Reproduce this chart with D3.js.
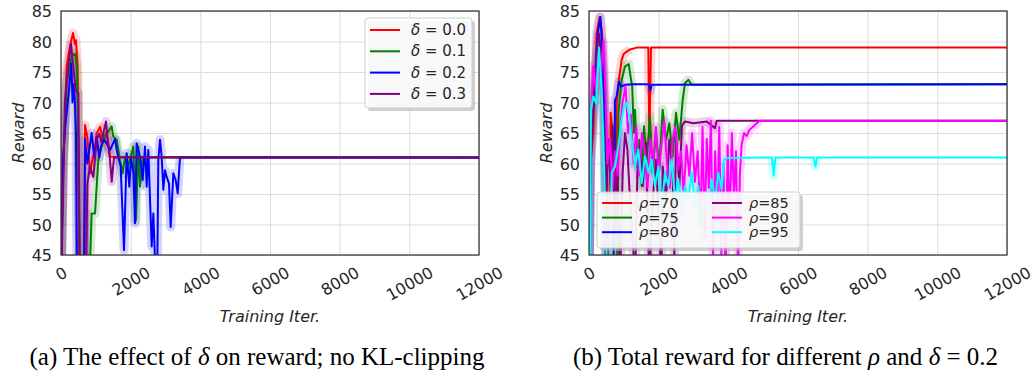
<!DOCTYPE html>
<html>
<head>
<meta charset="utf-8">
<script src="https://cdn.jsdelivr.net/npm/d3@7"></script>
<style>
  body { margin: 0; background: #fff; }
  svg { display: block; }
</style>
</head>
<body>
<svg id="chart" width="1033" height="374"></svg>
<script>
const xTicks = [0, 2000, 4000, 6000, 8000, 10000, 12000];
const yTicks = [45, 50, 55, 60, 65, 70, 75, 80, 85];

// panel (a): delta sweep, no KL-clipping  [iteration, reward]
const deltaLabels = ['0.0', '0.1', '0.2', '0.3'];
const deltaColors = ['#ff0000', '#008000', '#0000ff', '#800080'];
const delta00 = [[0,40],[60,58],[163,75.9],[250,79],[345,81.4],[400,79.6],[430,80.2],[478,75.9],[526,40],[670,40],[689,66.3],[756,64.4],[833,58.4],[900,60.6],[960,62],[1024,64.9],[1120,66],[1215,63.9],[1311,65.2],[1407,61.1],[12000,61]];
const delta01 = [[0,40],[60,60],[163,73.1],[250,76],[306,77.5],[402,78],[450,75.9],[480,70],[545,40],[813,40],[880,51.8],[976,51.8],[1024,56.2],[1072,60.6],[1167,62.8],[1263,64.4],[1388,65.5],[1455,66.1],[1502,64.4],[1598,63.9],[1694,60.6],[1770,58.4],[1837,61.1],[1914,59.5],[2000,61.1],[2077,62.8],[2153,50.7],[2220,62.8],[2268,56.2],[2345,61],[12000,61]];
const delta02 = [[0,40],[50,60],[120,66],[200,70.4],[260,74],[300,76.4],[330,70],[370,73],[400,70],[430,65],[460,40],[660,40],[690,64],[756,60],[880,65],[957,61],[1024,64.4],[1100,61],[1148,62.8],[1235,63.9],[1311,63.3],[1407,62.2],[1550,64],[1617,61.7],[1713,59.5],[1809,45.8],[1885,61.7],[1962,56.2],[2010,61.1],[2077,58.4],[2125,50.2],[2172,63.3],[2268,61.1],[2345,57.3],[2412,62.8],[2460,56.2],[2507,62.2],[2603,46.4],[2651,51.8],[2700,44],[2760,40],[2794,60.6],[2842,63.9],[2890,61.1],[2938,55.7],[2986,58.9],[3034,57.8],[3101,56.7],[3149,49.6],[3225,58.4],[3292,57.3],[3350,55.1],[3416,61],[12000,61]];
const delta03 = [[0,40],[20,44],[115,70.4],[210,75.9],[287,79.6],[354,75.9],[421,72],[498,71.5],[545,40],[718,40],[756,56.7],[830,59.5],[928,57.8],[1024,63.9],[1100,64.9],[1167,63.3],[1235,65.5],[1292,66.9],[1330,64.4],[1407,60.6],[1455,57],[1522,61],[12000,61]];

// panel (b): rho sweep with delta = 0.2
const rhoLabels = ['70', '75', '80', '85', '90', '95'];
const rhoColors = ['#ff0000', '#008000', '#0000ff', '#800080', '#ff00ff', '#00ffff'];
const rho70 = [[0,40],[40,60],[124,65],[220,81.3],[300,84],[364,82],[431,73.2],[507,62.3],[560,40],[600,40],[622,68.3],[680,65],[746,55],[794,69.9],[871,74.3],[938,77],[1000,78],[1177,78.7],[1369,79],[1703,79],[1732,63.3],[1780,79],[12000,79]];
const rho75 = [[0,40],[50,62],[150,70],[260,78],[330,80],[400,75],[450,66],[500,40],[800,40],[842,68.3],[938,73.7],[1034,75.9],[1140,76.3],[1200,74],[1240,72.6],[1290,65],[1321,68.8],[1388,59.4],[1445,63.9],[1512,56.3],[1579,66.1],[1656,60.6],[1751,67.7],[1828,58.5],[1924,65],[2019,59.5],[2115,68.8],[2211,63.9],[2306,66.6],[2402,61.2],[2498,68.3],[2593,63.9],[2689,70.4],[2756,73.2],[2852,73.7],[2948,72.9],[12000,73]];
const rho80 = [[0,40],[40,62],[172,73.2],[249,81.3],[330,84],[383,78.6],[431,70.4],[488,40],[699,40],[746,70.4],[794,71],[861,73.4],[919,72.6],[1034,72.9],[1273,73],[1720,73],[1760,72],[1800,72.9],[12000,73]];
const rho85 = [[0,40],[40,58],[124,70.4],[220,78.6],[287,81.3],[345,78.1],[411,67.7],[488,54.1],[555,63.9],[622,56.3],[680,66.1],[746,48.6],[813,59.5],[890,40],[967,58.5],[1034,65],[1101,62.3],[1177,54.1],[1254,48],[1321,40],[1388,58.5],[1464,62.8],[1541,56.3],[1636,63.4],[1732,40],[1828,54.1],[1924,60.6],[2019,48.6],[2080,40],[2115,59.5],[2211,54.1],[2306,63.9],[2402,58.5],[2450,44],[2498,65],[2593,56.3],[2670,66.2],[2756,66.9],[2995,66.6],[3378,66.9],[3617,65.8],[3665,67],[12000,67]];
const rho90 = [[0,40],[30,62],[77,70],[124,76],[201,72],[268,78],[335,74],[411,80],[470,72],[530,60],[600,64],[680,56],[750,62],[820,58],[900,66],[960,70],[1050,72.6],[1120,65],[1200,68],[1280,60],[1360,66],[1440,58],[1520,65],[1600,62],[1680,56],[1760,64],[1840,60],[1920,66],[2000,58],[2080,63],[2160,67],[2240,60],[2320,56],[2400,64],[2480,66],[2560,59],[2640,62],[2720,55],[2800,63],[2880,58],[2960,65],[3040,57],[3120,62],[3200,50],[3260,66],[3320,48],[3380,64],[3440,56],[3500,67],[3560,44],[3620,62],[3680,52],[3740,66],[3800,45],[3860,60],[3920,40],[3980,63],[4040,50],[4100,65],[4160,55],[4220,62],[4280,40],[4330,58],[4380,63],[4450,65],[4530,64.5],[4600,65.5],[4700,66],[4800,66.5],[4900,67],[12000,67]];
const rho95 = [[0,40],[29,44],[57,68.8],[124,71],[201,69.9],[287,79],[364,72.1],[411,63.9],[459,54.1],[526,40],[600,45],[651,58.5],[746,59.5],[842,62.8],[938,67.2],[1005,69.4],[1081,69.9],[1158,67.7],[1225,63.9],[1321,59.5],[1416,62.3],[1512,56.8],[1608,61.2],[1703,58.5],[1799,60.6],[1895,56.3],[1991,59.5],[2086,53],[2182,58.5],[2278,56.3],[2373,60.6],[2469,54.1],[2565,57.4],[2660,51.9],[2756,56.3],[2852,54.1],[2948,58.5],[3043,53],[3139,56.3],[3235,49.7],[3330,55.2],[3426,51.9],[3522,57.4],[3617,54.1],[3713,58.5],[3808,55.8],[3876,60.6],[3952,60.9],[5250,61],[5300,58],[5350,61],[6450,61],[6500,59.5],[6550,61],[12000,61]];

const svg = d3.select('#chart');
const FONT = 'DejaVu Sans';
const TXT = '#262626';
const plotTop = 11, plotBottom = 255;

function drawPanel(p) {
  const x = d3.scaleLinear().domain([0, 12000]).range([p.left, p.right]);
  const y = d3.scaleLinear().domain([45, 85]).range([plotBottom, plotTop]);
  const g = svg.append('g');

  // grid + tick labels via axes
  const gy = g.append('g').attr('transform', `translate(${p.left},0)`)
    .call(d3.axisLeft(y).tickValues(yTicks).tickSize(-(p.right - p.left)).tickPadding(9));
  gy.select('.domain').remove();
  gy.selectAll('line').attr('stroke', '#dcdcdc').attr('stroke-width', 1);
  gy.selectAll('text').attr('font-family', FONT).attr('font-size', 16).attr('fill', TXT)
    .attr('dy', null).attr('dominant-baseline', 'central');

  const gx = g.append('g').attr('transform', `translate(0,${plotBottom})`)
    .call(d3.axisBottom(x).tickValues(xTicks).tickFormat(d3.format('d')).tickSize(-(plotBottom - plotTop)));
  gx.select('.domain').remove();
  gx.selectAll('line').attr('stroke', '#dcdcdc').attr('stroke-width', 1);
  gx.selectAll('text').each(function () {
    const t = d3.select(this).attr('font-family', FONT).attr('font-size', 16).attr('fill', TXT)
      .attr('text-anchor', 'middle').attr('dominant-baseline', 'central').attr('y', 0).attr('dy', null);
    const w = this.getComputedTextLength();
    const a = 30 * Math.PI / 180;
    const bh = w * Math.sin(a) + 11.7 * Math.cos(a);
    t.attr('transform', `translate(0,${11 + bh / 2}) rotate(-30)`);
  });

  // series
  const clipId = 'clip' + p.id;
  svg.append('clipPath').attr('id', clipId).append('rect')
    .attr('x', p.left).attr('y', plotTop).attr('width', p.right - p.left).attr('height', plotBottom - plotTop);
  const line = d3.line().x(d => x(d[0])).y(d => y(d[1]));
  const plot = g.append('g').attr('clip-path', `url(#${clipId})`);

  // pale spread band, only where the run has not settled
  p.series.forEach((s, i) => {
    const last = s[s.length - 1][1];
    const dev = s.map(d => Math.abs(d[1] - last) > 0.3);
    const runs = [];
    let cur = null;
    for (let k = 0; k < s.length - 1; k++) {
      if (dev[k] || dev[k + 1]) {
        if (!cur) { cur = [s[k]]; runs.push(cur); }
        cur.push(s[k + 1]);
      } else cur = null;
    }
    runs.forEach(r => {
      plot.append('path').datum(r).attr('d', line)
        .attr('fill', 'none').attr('stroke', p.colors[i]).attr('stroke-opacity', 0.17)
        .attr('stroke-width', 9).attr('stroke-linejoin', 'round');
    });
  });
  p.series.forEach((s, i) => {
    plot.append('path').datum(s).attr('d', line)
      .attr('fill', 'none').attr('stroke', p.colors[i]).attr('stroke-width', 2)
      .attr('stroke-linejoin', 'round');
  });

  // frame
  g.append('rect').attr('x', p.left).attr('y', plotTop).attr('width', p.right - p.left).attr('height', plotBottom - plotTop)
    .attr('fill', 'none').attr('stroke', '#333').attr('stroke-width', 1.25);

  // axis labels
  g.append('text').attr('x', (p.left + p.right) / 2).attr('y', 322).attr('text-anchor', 'middle')
    .attr('font-family', FONT).attr('font-size', 16).attr('font-style', 'italic').attr('fill', TXT)
    .text('Training Iter.');
  g.append('text').attr('transform', `translate(${p.left - 37},133) rotate(-90)`).attr('text-anchor', 'middle')
    .attr('font-family', FONT).attr('font-size', 16).attr('font-style', 'italic').attr('fill', TXT)
    .text('Reward');

  // legend
  const L = p.legend;
  const lg = g.append('g');
  lg.append('rect').attr('x', L.x + 3).attr('y', L.y + 3).attr('width', L.w).attr('height', L.h)
    .attr('rx', 3).attr('fill', '#b0b0b0').attr('fill-opacity', 0.6);
  lg.append('rect').attr('x', L.x).attr('y', L.y).attr('width', L.w).attr('height', L.h)
    .attr('rx', 3).attr('fill', '#fff').attr('fill-opacity', 0.85).attr('stroke', '#cccccc').attr('stroke-width', 1);
  p.labels.forEach((lab, i) => {
    const col = Math.floor(i / L.rows), row = i % L.rows;
    const lx = L.x + 5 + col * L.colW, ly = L.y + L.row0 + row * L.rowH;
    lg.append('line').attr('x1', lx).attr('x2', lx + 30).attr('y1', ly).attr('y2', ly)
      .attr('stroke', p.colors[i]).attr('stroke-width', 2);
    const t = lg.append('text').attr('x', lx + L.textDx).attr('y', ly).attr('dominant-baseline', 'central')
      .attr('font-family', FONT).attr('font-size', L.fs).attr('fill', TXT);
    t.append('tspan').attr('font-style', 'italic').text(p.sym);
    t.append('tspan').text(p.sep + lab);
  });

  // caption
  const c = svg.append('text').attr('x', p.capX).attr('y', 365).attr('text-anchor', 'middle')
    .attr('font-family', 'Liberation Serif').attr('font-size', 25).attr('fill', '#000');
  p.caption.forEach(part => {
    c.append('tspan').attr('font-style', part[1] ? 'italic' : null).text(part[0]);
  });
}

drawPanel({
  id: 'a', left: 61, right: 479,
  series: [delta00, delta01, delta02, delta03], colors: deltaColors, labels: deltaLabels,
  sym: 'δ', sep: ' = ',
  legend: { x: 365, y: 18, w: 107, h: 90, rows: 4, colW: 0, row0: 12, rowH: 21.3, textDx: 41, fs: 15 },
  capX: 257,
  caption: [['(a) The effect of ', false], ['δ', true], [' on reward; no KL-clipping', false]]
});

drawPanel({
  id: 'b', left: 589, right: 1007,
  series: [rho70, rho75, rho80, rho85, rho90, rho95], colors: rhoColors, labels: rhoLabels,
  sym: 'ρ', sep: '=',
  legend: { x: 597, y: 192, w: 203, h: 56, rows: 3, colW: 110, row0: 11, rowH: 14.6, textDx: 37, fs: 14.5 },
  capX: 785.5,
  caption: [['(b) Total reward for different ', false], ['ρ', true], [' and ', false], ['δ', true], [' = 0.2', false]]
});
</script>
</body>
</html>
